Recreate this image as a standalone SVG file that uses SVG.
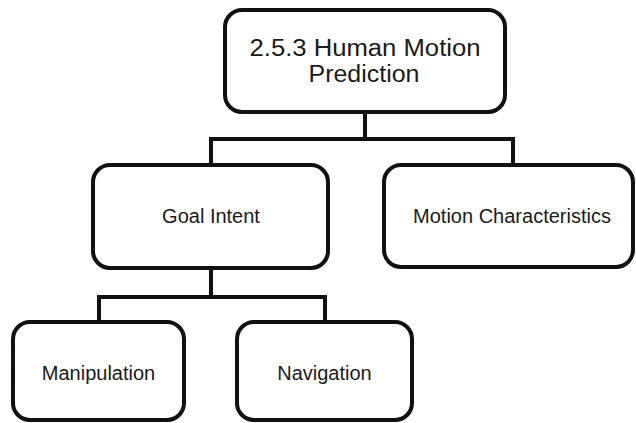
<svg xmlns="http://www.w3.org/2000/svg" width="636" height="423" viewBox="0 0 636 423">
<style>
.box{fill:#fff;stroke:#111;stroke-width:4}
.ln{fill:none;stroke:#111;stroke-width:4;stroke-linejoin:miter;stroke-linecap:square}
.t{font-family:"Liberation Sans",Arial,sans-serif;font-size:20px;fill:#1a1a1a;text-anchor:middle}
.tt{font-family:"Liberation Sans",Arial,sans-serif;font-size:23px;fill:#1a1a1a;text-anchor:middle}
</style>
<rect width="636" height="423" fill="#fff"/>
<g id="connectors">
<path class="ln" d="M365 112 V139 M211 165 V139 H513 V165"/>
<path class="ln" d="M211 268 V297 M99 322 V297 H325 V322"/>
</g>
<g id="n-root">
<rect class="box" x="225" y="10" width="280" height="102" rx="17"/>
<text class="tt" x="365" y="56" textLength="231" lengthAdjust="spacingAndGlyphs">2.5.3 Human Motion</text>
<text class="tt" x="364" y="82" textLength="111" lengthAdjust="spacingAndGlyphs">Prediction</text>
</g>
<g id="n-goal">
<rect class="box" x="93" y="165" width="235" height="103" rx="17"/>
<text class="t" x="211" y="223">Goal Intent</text>
</g>
<g id="n-motion">
<rect class="box" x="384" y="165" width="249" height="102" rx="17"/>
<text class="t" x="512" y="223">Motion Characteristics</text>
</g>
<g id="n-manip">
<rect class="box" x="13" y="322" width="171" height="98" rx="17"/>
<text class="t" x="98.5" y="380">Manipulation</text>
</g>
<g id="n-nav">
<rect class="box" x="237" y="322" width="175" height="98" rx="17"/>
<text class="t" x="324.5" y="380">Navigation</text>
</g>
</svg>
